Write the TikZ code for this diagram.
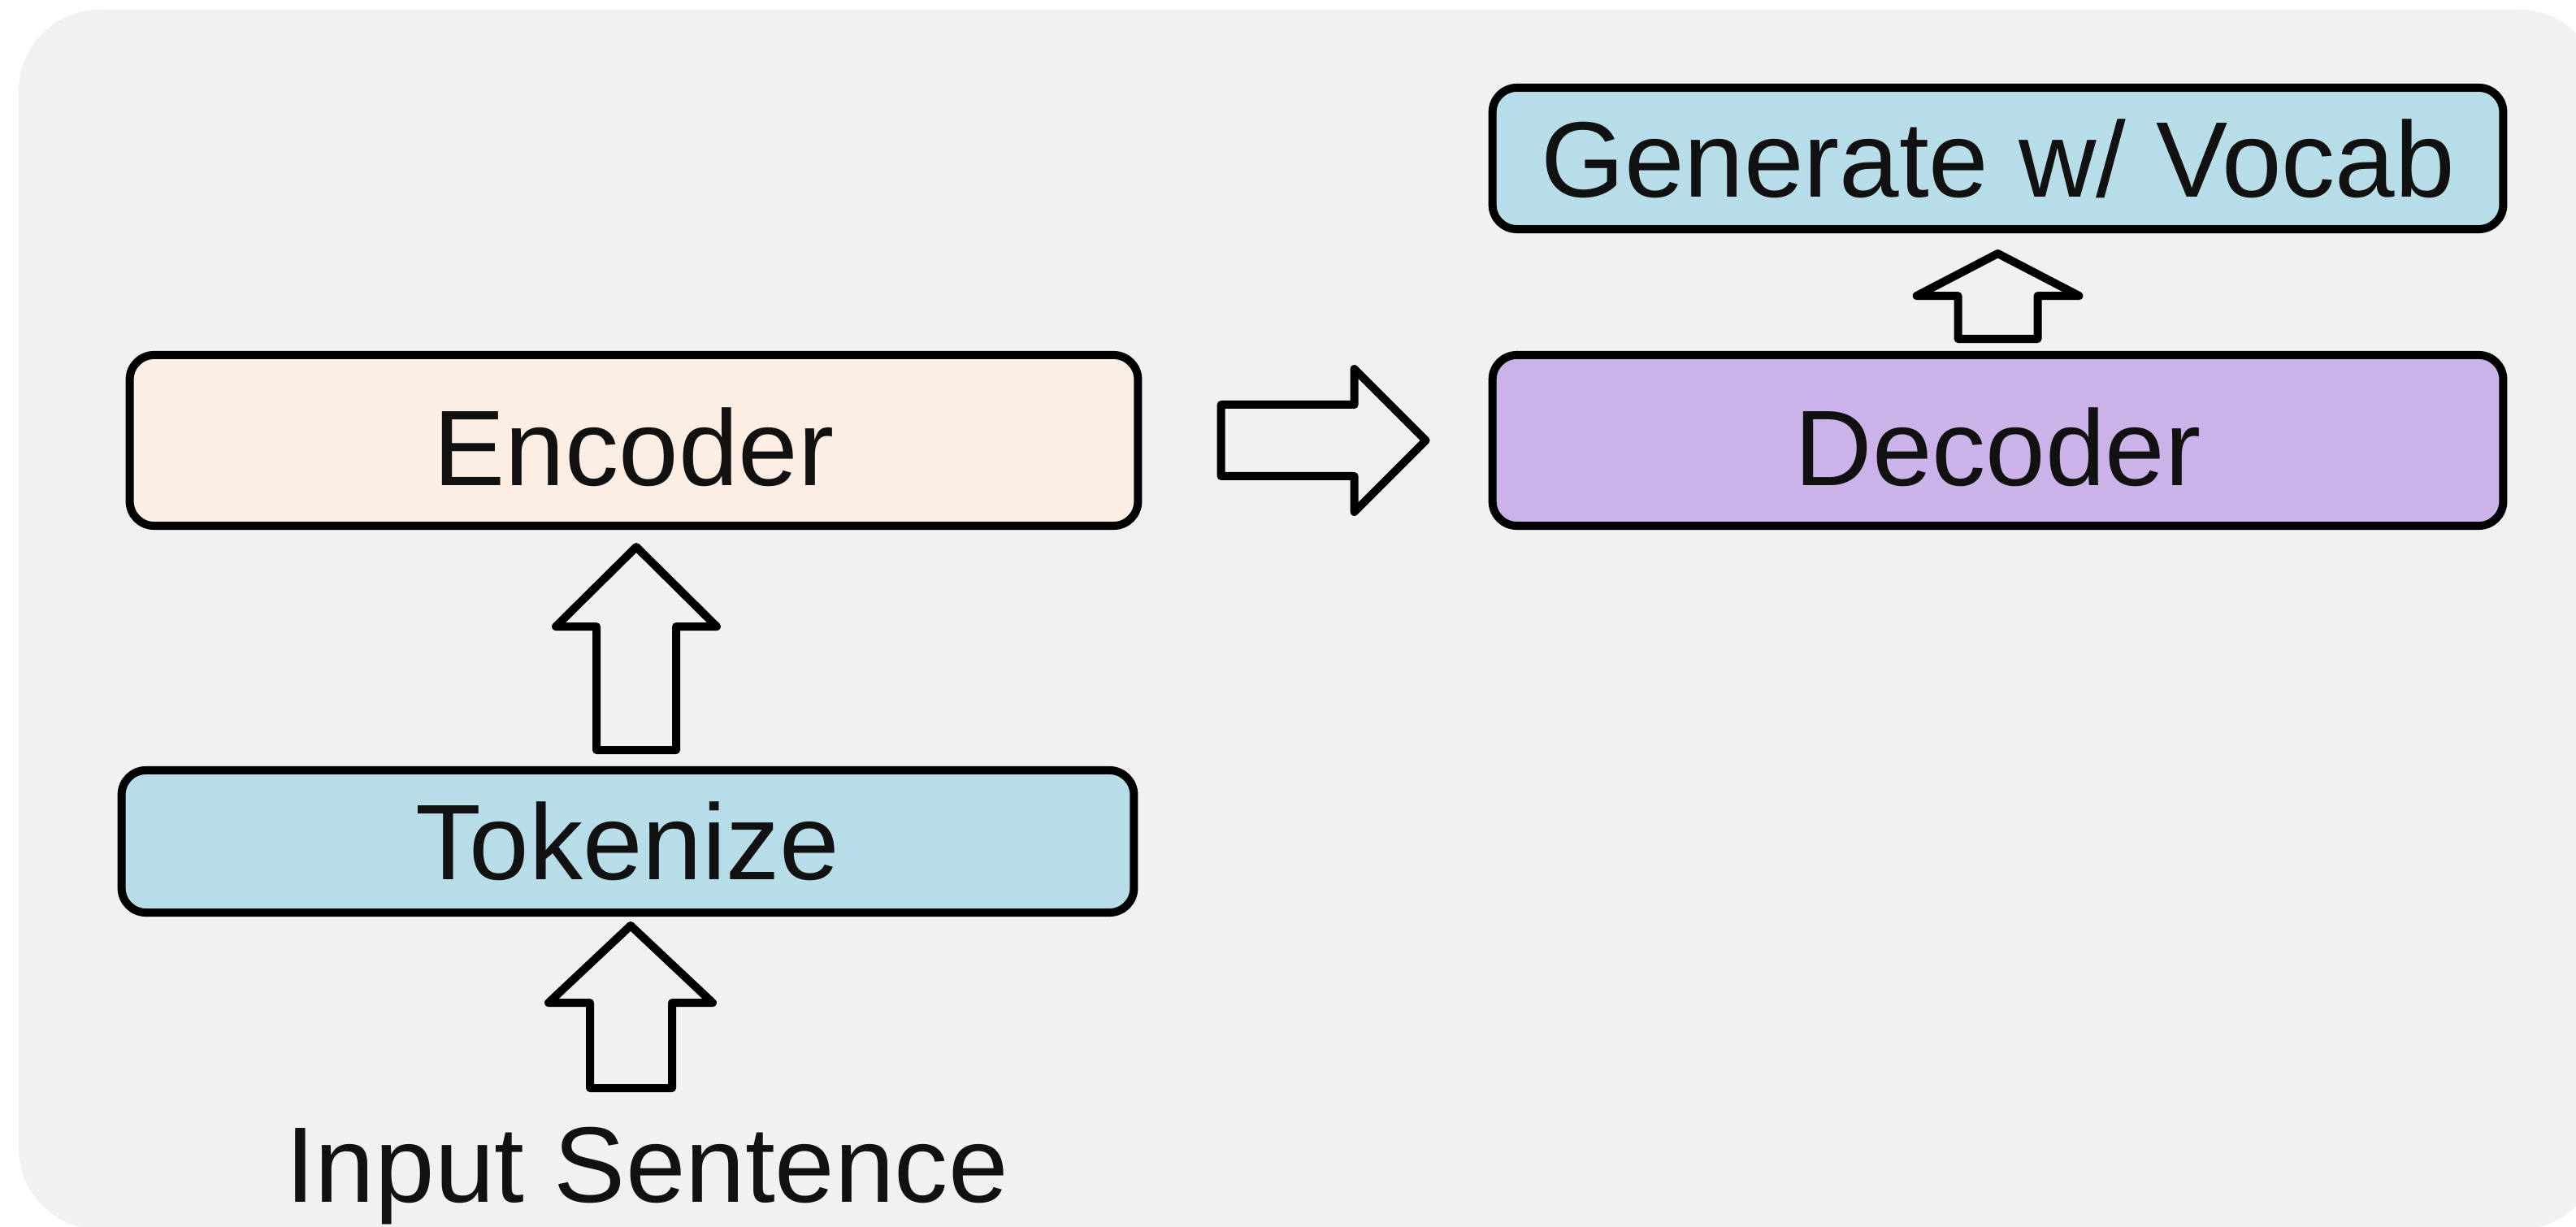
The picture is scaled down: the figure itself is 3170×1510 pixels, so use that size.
\documentclass[tikz,border=0pt]{standalone}
\usepackage{fontspec}
\setmainfont{Liberation Sans}
\usetikzlibrary{calc}
\definecolor{panelgray}{HTML}{F1F1F1}
\definecolor{boxblue}{HTML}{B7DEE8}
\definecolor{boxpeach}{HTML}{FCEEE3}
\definecolor{boxlilac}{HTML}{CBB2E8}
\definecolor{inkdark}{HTML}{111111}
\tikzset{
  label font/.style={font=\fontsize{37.6pt}{45pt}\selectfont, text=inkdark,
    text height=26.9pt, text depth=0pt},
  stage/.style={label font, draw=black, line width=0.1cm, rounded corners=0.3cm,
    inner sep=0pt, minimum width=12.43cm},
  blockarrow/.style={draw=black, line width=0.1cm, line join=round, line cap=round},
}
\begin{document}
\begin{tikzpicture}[x=0.01cm, y=-0.01cm]
  \useasboundingbox (0,0) rectangle (3170,1510);
  \clip (0,0) rectangle (3170,1510);
  % panel
  \fill[panelgray, rounded corners=1cm] (23,12) rectangle (3200,1513);

  % stages
  \node[stage, fill=boxpeach, minimum width=12.4cm, minimum height=2.1cm, text height=31.5pt]
    (enc) at (780,542) {Encoder};
  \node[stage, fill=boxblue, minimum width=12.45cm, minimum height=1.75cm]
    (tok) at (772.5,1035.5) {Tokenize};
  \node[stage, fill=boxlilac, minimum height=2.1cm, text height=31.5pt]
    (dec) at (2458.5,542) {Decoder};
  \node[stage, fill=boxblue, minimum height=1.74cm]
    (gen) at (2458.5,195) {Generate w/ Vocab};
  \node[label font, inner sep=0pt] (inp) at (796,1432) {Input Sentence};

  % Input Sentence -> Tokenize
  \draw[blockarrow] ($(tok.south)+(3.5,11)$) -- ++(101,95) -- ++(-50,0) -- ++(0,105)
    -- ++(-101,0) -- ++(0,-105) -- ++(-51,0) -- cycle;
  % Tokenize -> Encoder
  \draw[blockarrow] ($(enc.south)+(3,21)$) -- ++(99,98) -- ++(-50,0) -- ++(0,152)
    -- ++(-98,0) -- ++(0,-152) -- ++(-50,0) -- cycle;
  % Encoder -> Decoder
  \draw[blockarrow] ($(dec.west)+(-77,0)$) -- ++(-88,-88) -- ++(0,44) -- ++(-164,0)
    -- ++(0,88) -- ++(164,0) -- ++(0,44) -- cycle;
  % Decoder -> Generate
  \draw[blockarrow] ($(gen.south)+(0,25)$) -- ++(100,52) -- ++(-51,0) -- ++(0,53)
    -- ++(-98,0) -- ++(0,-53) -- ++(-51,0) -- cycle;
\end{tikzpicture}
\end{document}
